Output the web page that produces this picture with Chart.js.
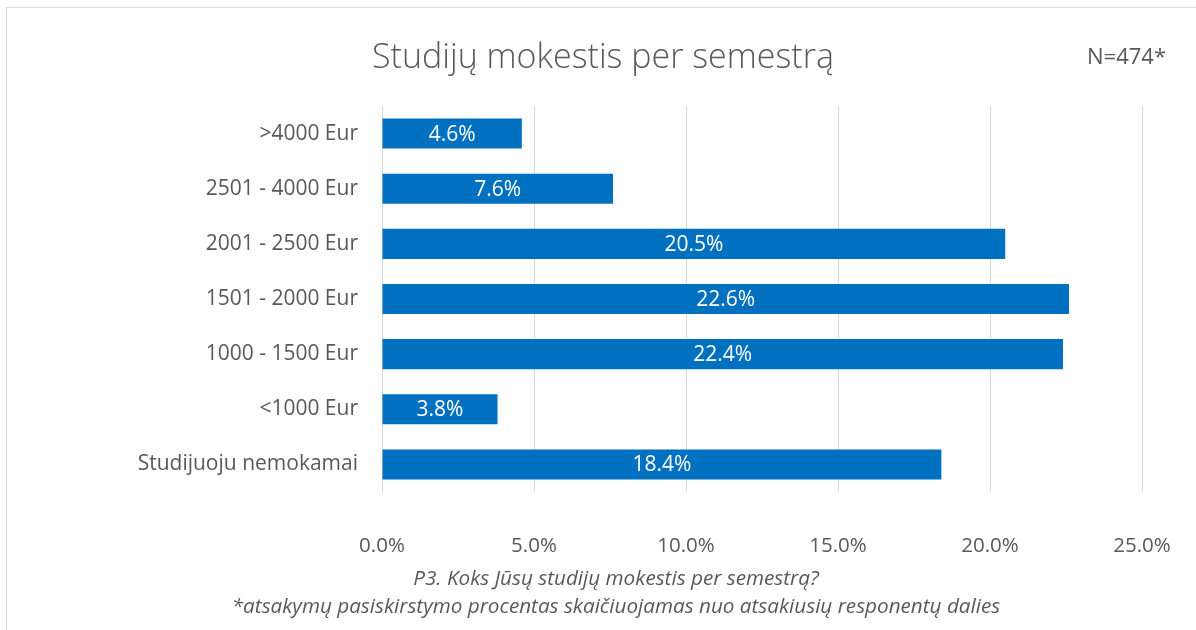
<!DOCTYPE html>
<html>
<head>
<meta charset="utf-8">
<script src="https://cdn.jsdelivr.net/npm/chart.js@4/dist/chart.umd.min.js"></script>
<style>
  html, body { margin: 0; padding: 0; background: #fff; }
  #wrap { position: relative; width: 1196px; height: 630px; overflow: hidden; }
  #frame { position: absolute; left: 6px; top: 7px; width: 1196px; height: 640px; border: 1px solid #d9d9d9; box-sizing: border-box; }
  canvas { position: absolute; left: 0; top: 0; }
  .txt { position: absolute; font-family: "Open Sans", sans-serif; color: #595959; white-space: nowrap; }
  #title { left: 0; width: 1206px; top: 33px; text-align: center; font-size: 34px; font-weight: 300; line-height: 44px; }
  #n { left: 1087px; top: 42px; font-size: 22px; line-height: 26px; }
  #cap1, #cap2 { left: 0; width: 1232px; text-align: center; font-size: 20.7px; font-style: italic; line-height: 26px; }
  #cap1 { top: 564px; }
  #cap2 { top: 592px; }
</style>
</head>
<body>
<div id="wrap">
  <div id="frame"></div>
  <canvas id="c" width="1196" height="630"></canvas>
  <div class="txt" id="title">Studijų mokestis per semestrą</div>
  <div class="txt" id="n">N=474*</div>
  <div class="txt" id="cap1">P3. Koks Jūsų studijų mokestis per semestrą?</div>
  <div class="txt" id="cap2">*atsakymų pasiskirstymo procentas skaičiuojamas nuo atsakiusių responentų dalies</div>
</div>
<script>
const categories = [">4000 Eur", "2501 - 4000 Eur", "2001 - 2500 Eur", "1501 - 2000 Eur", "1000 - 1500 Eur", "<1000 Eur", "Studijuoju nemokamai"];
const values = [4.6, 7.6, 20.5, 22.6, 22.4, 3.8, 18.4];
const xTicks = [0, 5, 10, 15, 20, 25];

const FONT = '"Open Sans", sans-serif';

const labelPlugin = {
  id: 'barLabels',
  afterDatasetsDraw(chart) {
    const ctx = chart.ctx;
    const meta = chart.getDatasetMeta(0);
    ctx.save();
    ctx.fillStyle = '#ffffff';
    ctx.font = '21px ' + FONT;
    ctx.textAlign = 'center';
    ctx.textBaseline = 'middle';
    meta.data.forEach((bar, i) => {
      const cx = (bar.x + bar.base) / 2;
      ctx.fillText(values[i].toFixed(1) + '%', cx, bar.y + 1);
    });
    ctx.restore();
  }
};

new Chart(document.getElementById('c'), {
  type: 'bar',
  data: {
    labels: categories,
    datasets: [{
      data: values,
      backgroundColor: '#0070C0',
      borderWidth: 0,
      barPercentage: 0.545,
      categoryPercentage: 1.0
    }]
  },
  options: {
    indexAxis: 'y',
    responsive: false,
    animation: false,
    layout: { padding: { top: 106, right: 54, bottom: 0, left: 0 } },
    plugins: { legend: { display: false }, tooltip: { enabled: false }, title: { display: false } },
    scales: {
      x: {
        min: 0, max: 25,
        afterBuildTicks(scale) { scale.ticks = xTicks.map(v => ({ value: v })); },
        afterFit(scale) { scale.height = 630 - 492; scale.paddingLeft = 0; scale.paddingRight = 0; },
        grid: { color: '#d9d9d9', lineWidth: 1, drawTicks: false },
        border: { display: false },
        ticks: {
          padding: 42,
          color: '#595959',
          font: { family: FONT, size: 20.5 },
          callback: v => Number(v).toFixed(1) + '%'
        }
      },
      y: {
        afterFit(scale) { scale.width = 382; scale.paddingTop = 0; scale.paddingBottom = 0; },
        grid: { display: false, drawTicks: false },
        border: { display: true, color: '#d9d9d9', width: 1 },
        ticks: {
          padding: 24,
          color: '#595959',
          font: { family: FONT, size: 21 }
        }
      }
    }
  },
  plugins: [labelPlugin]
});
</script>
</body>
</html>
